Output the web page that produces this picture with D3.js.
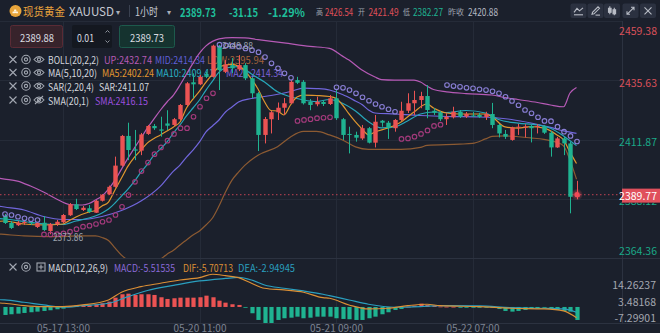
<!DOCTYPE html>
<html><head><meta charset="utf-8">
<script src="https://cdn.jsdelivr.net/npm/d3@7/dist/d3.min.js"></script>
<style>
html,body{margin:0;padding:0;background:#1b202c;overflow:hidden;}
svg{display:block;font-family:"Noto Sans CJK SC","Noto Sans",sans-serif;}
</style></head><body>
<svg id="c" width="660" height="333"></svg>
<script>
// ---------- DATA ----------
const idx0 = -9;
const opens  = [2381.2,2378.4,2377.5,2378.4,2378.6,2376.8,2378.5,2375.2,2377.9,2378.7,2381.5,2385.9,2383.6,2384.3,2382.5,2387.3,2389.9,2392.9,2401.4,2413.3,2407.9,2407.4,2414.1,2417.3,2415.9,2418.3,2417.7,2420.0,2425.7,2434.8,2434.0,2437.7,2437.0,2449.5,2439.0,2441.7,2440.0,2441.7,2436.4,2430.4,2413.7,2420.0,2422.8,2424.6,2426.4,2435.7,2435.0,2427.0,2426.0,2426.9,2426.1,2428.4,2420.0,2414.1,2413.7,2412.3,2416.4,2410.6,2419.4,2418.6,2416.4,2419.7,2423.4,2426.4,2427.7,2429.3,2423.4,2422.6,2420.0,2420.8,2423.0,2421.1,2421.49,2421.7,2420.9,2422.1,2417.7,2414.1,2411.7,2416.6,2416.9,2417.3,2416.9,2417.3,2414.6,2408.7,2412.3,2410.3,2388.9];
const highs  = [2382.0,2379.2,2379.2,2379.6,2379.2,2378.8,2381.2,2378.4,2379.6,2382.0,2386.4,2388.1,2385.2,2385.6,2387.6,2390.0,2393.4,2405.0,2413.7,2418.6,2415.7,2414.5,2417.7,2418.1,2421.0,2423.6,2420.5,2426.1,2434.9,2438.4,2437.7,2439.0,2449.88,2449.8,2443.7,2444.5,2445.7,2442.5,2436.9,2430.9,2420.9,2423.3,2426.7,2428.5,2435.7,2437.0,2435.7,2428.1,2429.0,2427.7,2429.7,2431.7,2420.5,2417.0,2415.0,2417.7,2416.9,2421.7,2419.7,2419.3,2420.1,2427.0,2430.4,2431.4,2431.0,2433.7,2424.5,2423.3,2422.4,2425.0,2423.7,2422.9,2422.9,2422.5,2423.0,2426.54,2418.1,2415.7,2417.0,2418.1,2418.0,2417.7,2418.0,2417.7,2415.3,2412.9,2413.0,2410.9,2395.3];
const lows   = [2378.0,2376.0,2377.2,2377.6,2377.6,2376.4,2375.2,2373.86,2377.2,2378.4,2381.2,2383.6,2383.2,2382.4,2382.4,2387.0,2389.6,2392.6,2401.0,2403.6,2403.6,2405.6,2413.7,2415.7,2413.0,2415.7,2417.3,2419.7,2425.3,2428.4,2433.7,2436.5,2436.7,2431.7,2438.5,2438.5,2439.3,2435.7,2428.4,2407.25,2410.3,2414.3,2419.7,2421.7,2426.1,2434.1,2425.9,2423.6,2425.2,2425.3,2425.7,2419.7,2411.7,2406.3,2411.0,2411.7,2410.3,2408.7,2417.0,2412.1,2415.0,2419.3,2422.5,2421.7,2424.4,2420.4,2421.7,2419.3,2417.7,2420.3,2420.5,2420.5,2420.9,2420.5,2419.7,2416.4,2412.7,2412.1,2411.4,2413.7,2412.7,2410.7,2414.3,2414.1,2405.0,2408.5,2405.6,2382.27,2387.9];
const closes = [2378.4,2376.4,2378.5,2378.8,2378.2,2378.4,2375.6,2378.0,2378.9,2381.6,2385.9,2384.0,2384.5,2382.8,2387.3,2389.6,2392.9,2401.4,2413.3,2407.65,2407.4,2413.9,2417.3,2416.4,2415.4,2417.4,2420.0,2425.7,2434.4,2434.0,2437.0,2437.0,2449.5,2439.7,2442.0,2440.4,2441.7,2436.4,2430.4,2413.7,2420.1,2422.8,2424.6,2426.4,2435.0,2434.6,2426.4,2425.7,2427.0,2426.1,2428.4,2420.4,2413.7,2413.7,2412.6,2416.4,2410.6,2419.0,2418.6,2416.4,2419.7,2423.4,2426.4,2427.7,2429.3,2423.7,2422.6,2420.0,2421.0,2423.0,2421.0,2422.1,2421.3,2420.9,2422.1,2417.7,2414.3,2413.0,2416.7,2417.0,2417.1,2416.4,2417.3,2414.6,2408.7,2412.3,2410.3,2388.9,2389.77];

const bollUp  = [[-10,2396.4],[-9,2396.0],[-7,2395.2],[-5,2393.2],[-3,2390.8],[-1,2388.0],[1,2385.8],[3,2385.6],[4,2386.2],[5,2387.6],[6,2389.2],[7,2392.0],[8,2395.6],[9,2400.0],[10,2404.4],[11,2408.5],[12,2412.5],[13,2416.5],[14,2420.1],[15,2423.7],[16,2426.9],[17,2429.7],[18,2433.7],[19,2438.1],[20,2442.5],[21,2446.5],[22,2449.4],[23,2451.2],[24,2452.2],[26,2452.7],[28,2452.6],[30,2451.9],[34,2450.6],[38,2449.2],[41,2448.4],[43,2445.3],[44,2443.7],[46,2439.7],[48,2436.9],[49,2435.9],[51,2435.7],[54,2435.7],[55,2434.9],[56,2433.3],[57,2431.9],[59,2431.0],[62,2430.3],[66,2429.7],[68,2428.7],[70,2427.9],[73,2426.7],[75,2425.7],[77,2425.0],[78,2430.5],[79,2432.74]];
const bollMid = [[-10,2385.2],[-9,2384.8],[-6,2383.6],[-3,2381.0],[0,2379.8],[3,2379.8],[6,2381.0],[9,2383.4],[12,2387.2],[15,2393.2],[17,2399.2],[18,2401.6],[19,2404.8],[20,2407.6],[21,2410.9],[22,2414.9],[23,2417.3],[24,2419.7],[25,2422.9],[26,2424.9],[27,2426.9],[29,2428.3],[32,2429.5],[35,2431.1],[37,2432.5],[39,2432.3],[41,2431.7],[43,2429.9],[45,2427.3],[46,2425.9],[47,2423.7],[48,2422.5],[51,2422.1],[55,2421.5],[59,2421.1],[64,2420.9],[69,2419.9],[72,2418.5],[75,2416.7],[77,2415.3],[79,2414.34]];
const bollLow = [[-10,2374.0],[-9,2373.8],[-6,2373.2],[-2,2372.9],[3,2373.2],[5,2373.2],[6,2372.6],[7,2371.4],[8,2368.4],[9,2365.5],[10,2363.5],[12,2361.9],[14,2362.7],[15,2363.9],[16,2365.9],[17,2367.5],[18,2369.6],[19,2371.6],[20,2373.6],[21,2375.2],[22,2377.6],[23,2380.4],[24,2385.2],[25,2390.8],[26,2395.6],[27,2398.8],[28,2401.6],[30,2405.6],[33,2409.0],[35,2412.9],[37,2415.1],[39,2415.1],[41,2413.7],[43,2411.7],[45,2408.9],[47,2407.9],[52,2407.9],[55,2408.7],[56,2409.5],[61,2410.0],[63,2410.3],[65,2412.1],[66,2413.1],[68,2413.3],[72,2412.5],[74,2411.9],[76,2410.7],[77,2409.3],[78,2403.6],[79,2395.94]];
const ma5  = [[-10,2379.0],[-9,2379.2],[-6,2378.0],[-3,2377.6],[0,2378.0],[1,2379.4],[2,2380.8],[4,2382.8],[5,2383.4],[6,2385.2],[7,2386.8],[8,2391.6],[9,2396.4],[10,2401.2],[11,2404.8],[12,2407.6],[13,2410.5],[14,2412.3],[15,2413.7],[16,2415.3],[17,2416.9],[18,2418.9],[19,2424.5],[20,2428.1],[21,2431.3],[22,2434.9],[23,2438.1],[24,2440.9],[25,2441.7],[26,2442.0],[27,2441.3],[28,2439.3],[29,2436.1],[30,2432.1],[31,2427.0],[32,2423.5],[33,2423.3],[34,2421.7],[35,2425.7],[36,2428.9],[37,2429.7],[39,2429.5],[41,2429.1],[42,2428.4],[43,2425.7],[44,2422.1],[45,2418.9],[46,2416.1],[47,2413.7],[48,2414.9],[50,2416.5],[52,2418.9],[53,2420.9],[54,2422.9],[56,2426.1],[57,2424.5],[59,2422.5],[61,2422.1],[65,2422.1],[66,2421.0],[68,2416.9],[70,2416.4],[72,2417.0],[74,2416.4],[76,2413.7],[77,2411.7],[78,2406.8],[79,2402.24]];
const ma10 = [[-10,2380.2],[-9,2380.0],[-6,2379.0],[-3,2378.0],[0,2377.8],[2,2379.2],[4,2380.4],[6,2382.4],[7,2384.0],[8,2386.4],[9,2389.2],[10,2392.0],[11,2395.2],[12,2398.8],[13,2402.0],[14,2405.6],[15,2408.1],[16,2410.9],[17,2414.5],[18,2417.7],[19,2421.3],[20,2424.5],[21,2427.7],[22,2431.7],[23,2435.3],[24,2438.9],[25,2440.5],[27,2441.1],[28,2439.9],[29,2438.1],[31,2434.9],[33,2431.0],[35,2429.0],[37,2427.7],[39,2427.1],[41,2427.9],[43,2426.4],[45,2423.3],[47,2419.0],[49,2416.5],[51,2416.9],[53,2419.3],[55,2422.1],[57,2422.9],[59,2422.7],[62,2423.5],[65,2422.5],[67,2419.9],[70,2418.4],[73,2417.7],[75,2416.4],[77,2413.3],[79,2409.41]];
const sarVals = [2382.0,2381.6,2380.9,2380.3,2379.9,2379.6,2373.8,2373.8,2373.9,2374.2,2374.9,2375.9,2376.9,2377.3,2378.0,2378.9,2379.6,2381.6,2384.9,2389.6,2394.9,2399.2,2402.6,2406.0,2408.7,2411.4,2414.1,2416.4,2416.4,2421.0,2425.0,2428.4,2430.4,2449.88,2449.6,2449.4,2449.1,2448.4,2447.7,2446.9,2444.9,2442.4,2440.4,2438.4,2436.6,2419.3,2419.7,2420.0,2420.4,2420.6,2420.8,2432.8,2432.6,2431.7,2430.4,2428.8,2427.4,2426.1,2425.0,2424.0,2423.0,2412.1,2412.3,2413.0,2414.1,2415.5,2417.3,2417.8,2433.7,2433.3,2433.0,2432.6,2432.4,2432.0,2431.7,2431.2,2430.4,2429.0,2427.3,2425.6,2423.7,2422.4,2420.8,2419.3,2419.2,2417.0,2415.0,2413.3,2411.07];

const macdHist = [-5.15,-4.7,-4.3,-3.86,-3.4,-3.0,-2.57,-2.12,-1.48,-1.09,0.64,0.84,0.84,1.29,1.74,2.38,3.41,5.98,8.17,8.56,7.72,8.17,8.17,7.72,6.24,5.15,5.60,5.98,5.98,5.98,6.24,7.27,6.24,4.05,2.77,1.74,1.29,-0.4,-4.05,-8.37,-10.5,-11.1,-8.37,-7.27,-6.9,-6.24,-7.27,-6.9,-6.24,-6.24,-6.24,-7.27,-7.72,-7.9,-8.37,-8.37,-7.27,-6.24,-4.7,-3.41,-1.93,-1.29,0.19,0.84,2.12,1.29,0.84,0.3,0.2,0.15,-0.2,-0.25,-0.3,-0.3,-0.2,-0.4,-1.29,-2.57,-3.0,-2.57,-1.93,-1.29,-0.84,-0.3,-1.29,-1.93,-2.57,-3.0,-8.37];
const difLine = [[-10,2.6],[-9,2.38],[-6,0.84],[-3,0.19],[0,0.19],[3,1.29],[7,4.50],[9,9.46],[12,13.06],[15,15.25],[18,17.37],[21,18.85],[23,21.04],[25,20.14],[27,18.85],[29,15.25],[31,12.03],[34,10.94],[37,9.46],[40,5.98],[41,5.60],[44,1.29],[47,-1.29],[50,-0.84],[53,0.84],[56,1.74],[58,0.84],[64,0.19],[69,-0.84],[74,-1.29],[77,-2.57],[79,-7.0]];
const deaLine = [[-10,4.7],[-9,4.50],[-6,3.02],[-3,1.29],[0,-0.19],[3,0.84],[7,2.38],[10,6.63],[13,10.62],[17,13.84],[21,16.73],[25,18.34],[27,18.98],[29,17.37],[31,14.16],[34,12.03],[37,10.30],[40,8.17],[41,7.27],[44,4.50],[47,1.74],[51,-0.19],[55,0.19],[58,0.84],[64,0.64],[69,-0.45],[74,-0.84],[77,-1.29],[79,-3.41]];

const priceTicks = [2459.38,2435.63,2411.87,2388.12,2364.36];
const macdTicks  = [14.26237,3.48168,-7.29901];
const xTickIdx   = [0,21,42,63];
const xTickLabels= ["05-17 13:00","05-20 11:00","05-21 09:00","05-22 07:00"];
const prevClose = 2420.88, lastPrice = 2389.77;

// ---------- SETUP ----------
const C = {bg:"#1b202c", grid:"#252b38", up:"#eb5353", down:"#1fb391", txt:"#d3d6dd",
  bUp:"#b65ab6", bMid:"#7166dc", bLow:"#8c5a32", ma5:"#e0962f", ma10:"#27a6b9",
  sarBull:"#a43a7c", sarBear:"#8a7fd6", dif:"#db8f35", dea:"#2a9fbf"};
const svg = d3.select("#c");
const plotR = 622;
const x  = d3.scaleLinear().domain([-9,79]).range([4.5,576.5]);
const y  = d3.scaleLinear().domain([2364.36,2459.38]).range([258,21]);
const ym = d3.scaleLinear().domain([-7.29901,14.26237]).range([318.3,284.8]);
const bars = opens.map((o,k)=>({i:idx0+k,o,h:highs[k],l:lows[k],c:closes[k]}));

svg.append("rect").attr("width",660).attr("height",333).attr("fill",C.bg);
const defs = svg.append("defs");
defs.append("clipPath").attr("id","cm").append("rect").attr("x",0).attr("y",21).attr("width",plotR).attr("height",237);
defs.append("clipPath").attr("id","cd").append("rect").attr("x",0).attr("y",258).attr("width",plotR).attr("height",65);
defs.append("clipPath").attr("id","tagclip").append("rect").attr("x",600).attr("y",202.6).attr("width",60).attr("height",20);
const glow = defs.append("radialGradient").attr("id","glow");
glow.append("stop").attr("offset","0%").attr("stop-color","#ff4d5a").attr("stop-opacity",0.7);
glow.append("stop").attr("offset","100%").attr("stop-color","#ff4d5a").attr("stop-opacity",0);

const T = (g,xx,yy,t,fill,size,opt={})=>{
  const el = g.append("text").attr("x",xx).attr("y",yy).text(t).attr("fill",fill)
    .attr("font-size",size).attr("font-weight",opt.wt||400).attr("text-anchor",opt.a||"start")
    .attr("dominant-baseline",opt.base||"central");
  if(opt.w) el.attr("textLength",opt.w).attr("lengthAdjust","spacingAndGlyphs");
  return el;
};

// grid
const g0 = svg.append("g");
priceTicks.forEach(p=>g0.append("line").attr("x1",0).attr("x2",plotR).attr("y1",Math.round(y(p))+0.5).attr("y2",Math.round(y(p))+0.5).attr("stroke",C.grid));
xTickIdx.forEach(i=>g0.append("line").attr("x1",Math.round(x(i))+0.5).attr("x2",Math.round(x(i))+0.5).attr("y1",21).attr("y2",323).attr("stroke",C.grid));
g0.append("line").attr("x1",0).attr("x2",660).attr("y1",258.5).attr("y2",258.5).attr("stroke","#2c3240");
g0.append("line").attr("x1",0).attr("x2",660).attr("y1",323.5).attr("y2",323.5).attr("stroke","#2c3240");
g0.append("line").attr("x1",plotR+0.5).attr("x2",plotR+0.5).attr("y1",21).attr("y2",323).attr("stroke","#2c3240");

// ---------- HEADER ----------
const hd = svg.append("g");
hd.append("circle").attr("cx",15.5).attr("cy",11).attr("r",6).attr("fill","#e8a53b");
hd.append("path").attr("d","M12.3,13.2h2.6l0.5,-1.6h-2.6zM15.6,13.2h2.6l-0.5,-1.6h-2.6zM13.9,11.2h2.6l-0.4,-1.6h-1.8z").attr("fill","#fff6e0");
T(hd,23,11,"现货黄金","#e9a23c",11.5,{w:42});
T(hd,69,11,"XAUUSD","#c5c9d2",11.5,{w:45});
T(hd,116,11.5,"▾","#a9aeb8",8);
hd.append("line").attr("x1",129.5).attr("x2",129.5).attr("y1",5).attr("y2",17).attr("stroke","#3a4150");
T(hd,135,11,"1小时","#c5c9d2",11.5,{w:23});
T(hd,167,11.5,"▾","#a9aeb8",8);
T(hd,180,11,"2389.73","#1fbf9a",12,{wt:700,w:36});
T(hd,229,11,"-31.15","#1fbf9a",12,{wt:700,w:29});
T(hd,268,11,"-1.29%","#1fbf9a",12,{wt:700,w:37});
T(hd,316,11,"高","#9ea3ad",8.5,{w:7});
T(hd,325,11,"2426.54","#e0505a",10,{w:28});
T(hd,358,11,"开","#9ea3ad",8.5,{w:7});
T(hd,368.5,11,"2421.49","#e0505a",10,{w:30});
T(hd,403,11,"低","#9ea3ad",8.5,{w:7});
T(hd,413,11,"2382.27","#1fb391",10,{w:30});
T(hd,448,11,"昨收","#9ea3ad",8.5,{w:16});
T(hd,468,11,"2420.88","#b5b9c2",10,{w:30});
[578.5,595.5,612,630.5,648].forEach((cx,k)=>{
  hd.append("rect").attr("x",cx-8).attr("y",3.5).attr("width",16).attr("height",14.5).attr("rx",2).attr("fill","#2b3140");
  const st = hd.append("g").attr("transform",`translate(${cx},10.8)`).attr("stroke","#b9bdc6").attr("fill","none").attr("stroke-width",1.1);
  if(k===0){st.append("path").attr("d","M-4.5,1.5L-1.5,-2.5L1,0L4.5,-3");st.append("path").attr("d","M-4.5,4H4.5");}
  if(k===1){st.append("path").attr("d","M-3.5,3.5L-3,1.5L2.5,-4L4,-2.5L-1.5,3Z");st.append("path").attr("d","M0,4.3H4.5");}
  if(k===2){st.append("rect").attr("x",-3.5).attr("y",-2.5).attr("width",2.6).attr("height",4).attr("fill","#b9bdc6");
            st.append("rect").attr("x",1).attr("y",-1).attr("width",2.6).attr("height",4).attr("fill","#b9bdc6");
            st.append("path").attr("d","M-2.2,-4.5V3.5M2.3,-3V4.5");}
  if(k===3){st.append("path").attr("d","M-3.5,3.5L3.5,-3.5M0.5,-3.5H3.5V-0.5M-3.5,0.5V3.5H-0.5");}
  if(k===4){st.append("path").attr("d","M-3.5,-3.5L3.5,3.5M3.5,-3.5L-3.5,3.5");}
});

// ---------- ORDER BOXES ----------
const ob = svg.append("g");
ob.append("rect").attr("x",10.5).attr("y",25.5).attr("width",52).attr("height",22).attr("rx",2).attr("fill","#37232b").attr("stroke","#5a2b35");
T(ob,37,36.5,"2389.88","#d9dbe0",11,{a:"middle",w:34});
ob.append("rect").attr("x",72).attr("y",25).attr("width",40).attr("height",23).attr("rx",2).attr("fill","#141820");
T(ob,77,36.5,"0.01","#d9dbe0",11,{w:17});
ob.append("path").attr("d","M105.5,32.5L107.5,30.5L109.5,32.5M105.5,40.5L107.5,42.5L109.5,40.5").attr("stroke","#8c919b").attr("fill","none");
ob.append("rect").attr("x",119.5).attr("y",25.5).attr("width",55).attr("height",22).attr("rx",2).attr("fill","#15332f").attr("stroke","#1d5a4c");
T(ob,147,36.5,"2389.73","#d9dbe0",11,{a:"middle",w:34});

// ---------- LEGENDS ----------
const lg = svg.append("g");
function icons(g,cy,hidden,macd){
  const ic = g.append("g").attr("stroke","#a3a8b2").attr("fill","none").attr("stroke-width",1.1);
  ic.append("path").attr("d",`M9.5,${cy-3.5}L16.5,${cy+3.5}M16.5,${cy-3.5}L9.5,${cy+3.5}`);
  ic.append("circle").attr("cx",26).attr("cy",cy).attr("r",4.2);
  ic.append("circle").attr("cx",26).attr("cy",cy).attr("r",1.6);
  if(macd){
    ic.append("rect").attr("x",37).attr("y",cy-4).attr("width",8).attr("height",8);
    ic.append("path").attr("d",`M41,${cy-2.5}V${cy+2.5}M38.5,${cy}H43.5`);
  } else {
    ic.append("path").attr("d",`M34,${cy}Q39,${cy-6} 44,${cy}Q39,${cy+6} 34,${cy}Z`);
    ic.append("circle").attr("cx",39).attr("cy",cy).attr("r",1.6);
    if(hidden) ic.append("path").attr("d",`M35,${cy+4}L43,${cy-4}`);
  }
}
const rows = [
  {cy:59.5, name:"BOLL(20,2,2)", nw:51, items:[[104,"UP:2432.74",C.bUp,48],[155,"MID:2414.34","#5f5fd6",50],[207,"LOW:2395.94","#a3623a",57]]},
  {cy:72.5, name:"MA(5,10,20)", nw:49, items:[[102,"MA5:2402.24",C.ma5,52],[156,"MA10:2409.41","#2ab0c6",58],[226,"MA20:2414.34","#7c63d8",57]]},
  {cy:86, name:"SAR(2,20,4)", nw:46, items:[[99,"SAR:2411.07",C.txt,50]]},
  {cy:100, name:"SMA(20,1)", nw:41, items:[[95,"SMA:2416.15","#9a4fde",53]], hidden:true}
];
rows.forEach(r=>{
  icons(lg,r.cy,r.hidden,false);
  T(lg,48,r.cy,r.name,C.txt,10,{w:r.nw});
  r.items.forEach(it=>T(lg,it[0],r.cy,it[1],it[2],10,{w:it[3]}));
});
icons(lg,267,false,true);
T(lg,48,267,"MACD(12,26,9)",C.txt,10,{w:60});
T(lg,114,267,"MACD:-5.51535","#8a6ad8",10,{w:61});
T(lg,183,267,"DIF:-5.70713",C.dif,10,{w:50});
T(lg,238,267,"DEA:-2.94945",C.dea,10,{w:57});

// ---------- MAIN CHART ----------
const main = svg.append("g").attr("clip-path","url(#cm)");
const line = d3.line().x(d=>x(d[0])).y(d=>y(d[1])).curve(d3.curveMonotoneX);
[[bollLow,C.bLow],[bollUp,C.bUp],[bollMid,C.bMid],[ma10,C.ma10],[ma5,C.ma5]].forEach(([d,c])=>
  main.append("path").datum(d).attr("d",line).attr("fill","none").attr("stroke",c).attr("stroke-width",1.2));

main.append("line").attr("x1",0).attr("x2",plotR).attr("y1",y(lastPrice)).attr("y2",y(lastPrice))
  .attr("stroke","#9e3b4b").attr("stroke-dasharray","1.5,2.5").attr("stroke-width",1.2);

const bw = 4.4;
const cg = main.selectAll("g.c").data(bars).enter().append("g");
cg.append("line").attr("x1",d=>Math.round(x(d.i))+0.5).attr("x2",d=>Math.round(x(d.i))+0.5)
  .attr("y1",d=>y(d.h)).attr("y2",d=>y(d.l)).attr("stroke",d=>d.c>=d.o?C.up:C.down).attr("stroke-width",1);
cg.append("rect").attr("x",d=>Math.round(x(d.i))+0.5-bw/2).attr("width",bw)
  .attr("y",d=>y(Math.max(d.o,d.c))).attr("height",d=>Math.max(1,Math.abs(y(d.o)-y(d.c))))
  .attr("fill",d=>d.c>=d.o?C.up:C.down);

main.selectAll("circle.s").data(sarVals.map((v,k)=>({i:idx0+k,v,c:closes[k]}))).enter().append("circle")
  .attr("cx",d=>x(d.i)+0.5).attr("cy",d=>y(d.v)).attr("r",2.3).attr("fill","none")
  .attr("stroke",d=>d.v>d.c?C.sarBear:C.sarBull).attr("stroke-width",1.1);

T(svg,222,45,"2449.88","#9ea3ad",9.5,{w:31});
T(svg,53,236,"2373.86","#9ea3ad",10,{w:30});

svg.append("circle").attr("cx",x(79)+0.5).attr("cy",y(lastPrice)).attr("r",6).attr("fill","url(#glow)");
svg.append("circle").attr("cx",x(79)+0.5).attr("cy",y(lastPrice)).attr("r",2.6).attr("fill","#f04a57");

// ---------- MACD ----------
const md = svg.append("g").attr("clip-path","url(#cd)");
md.selectAll("rect").data(macdHist.map((v,k)=>({i:idx0+k,v}))).enter().append("rect")
  .attr("x",d=>Math.round(x(d.i))+0.5-2.1).attr("width",4.2)
  .attr("y",d=>Math.min(ym(0),ym(d.v))).attr("height",d=>Math.max(0.8,Math.abs(ym(d.v)-ym(0))))
  .attr("fill",d=>d.v>=0?C.up:C.down);
const lm = d3.line().x(d=>x(d[0])).y(d=>ym(d[1])).curve(d3.curveMonotoneX);
md.append("path").datum(deaLine).attr("d",lm).attr("fill","none").attr("stroke",C.dea).attr("stroke-width",1.2);
md.append("path").datum(difLine).attr("d",lm).attr("fill","none").attr("stroke",C.dif).attr("stroke-width",1.2);

// ---------- AXES ----------
const ax = svg.append("g");
const py = y(lastPrice);
priceTicks.forEach(p=>{
  const cy = Math.max(30, Math.min(250, y(p)+2));
  const hiddenByTag = Math.abs(cy-py) < 9;
  const el = T(ax,657,cy,p.toFixed(2),p>prevClose?"#d9505a":"#1aa888",10.5,{a:"end"});
  if(hiddenByTag) el.attr("clip-path","url(#tagclip)");
});
macdTicks.forEach(v=>T(ax,656,ym(v)-0.5,String(v),"#a3a7b0",10.5,{a:"end"}));
xTickIdx.forEach((i,k)=>T(ax,x(i)+0.5,331.5,xTickLabels[k],"#7d8391",10,{a:"middle",base:"auto"}));

ax.append("rect").attr("x",622).attr("y",py-6).attr("width",38).attr("height",14).attr("fill","#e0505c");
T(ax,657,py+1,lastPrice.toFixed(2),"#ffffff",10.5,{a:"end"});
</script></body></html>
